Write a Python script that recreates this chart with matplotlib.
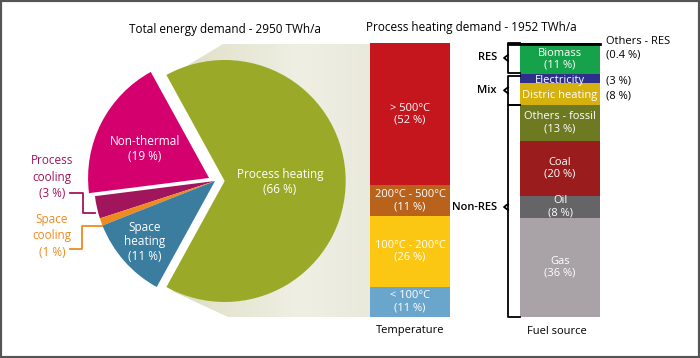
import matplotlib.pyplot as plt
import numpy as np
from matplotlib.patches import Polygon, Rectangle
from matplotlib.colors import LinearSegmentedColormap

plt.rcParams['font.family'] = ['Open Sans', 'DejaVu Sans']

# Total energy demand split (%)
pie_names = ['Process heating', 'Non-thermal', 'Process cooling', 'Space cooling', 'Space heating']
pie_values = [66, 19, 3, 1, 11]
pie_colors = ['#9aaa28', '#d4006e', '#a0155c', '#ef8a22', '#3a7d9e']
pie_explode = [0.08, 0.055, 0, 0, 0]  # fraction of radius

# Process heating by temperature (%)
temp_names = ['> 500°C', '200°C - 500°C', '100°C - 200°C', '< 100°C']
temp_values = [52, 11, 26, 11]
temp_colors = ['#c4161c', '#b8621b', '#fcc712', '#6aa6cb']

# Process heating by fuel (%)
fuel_names = ['Others - RES', 'Biomass', 'Electricity', 'Distric heating',
              'Others - fossil', 'Coal', 'Oil', 'Gas']
fuel_values = [0.4, 11, 3, 8, 13, 20, 8, 36]
fuel_colors = ['#111111', '#16a24a', '#2e2f8a', '#d6b00c', '#6e7a22', '#9a1c1c', '#656567', '#a9a2a7']
fuel_inside_value = [False, True, False, False, True, True, True, True]

groups = ['RES', 'Mix', 'Non-RES']

fig = plt.figure(figsize=(7.0, 3.58), dpi=100)
ax = fig.add_axes([0, 0, 1, 1])

# pie (pixel-like coordinates, y pointing down)
pie_r = 121
wedges, _ = ax.pie(pie_values, colors=pie_colors, explode=[e * pie_r for e in pie_explode],
                   startangle=118.8, counterclock=False, center=(215, 181), radius=pie_r,
                   wedgeprops=dict(linewidth=0))
for w in wedges:
    w.set_zorder(3)

ax.set_xlim(0, 700)
ax.set_ylim(358, 0)
ax.axis('off')

# beige "zoom" band from pie to the temperature bar
band = Polygon([(223, 44), (370, 44), (370, 317), (228, 317), (172, 291), (225, 181), (170, 76)],
               facecolor='none', edgecolor='none')
ax.add_patch(band)
cmap = LinearSegmentedColormap.from_list('band', ['#dcdcc0', '#e6e6d3', '#efefe4', '#e9e9dc'])
grad = np.linspace(0, 1, 256).reshape(1, -1)
im = ax.imshow(grad, cmap=cmap, extent=[160, 370, 318, 43], aspect='auto', zorder=1)
im.set_clip_path(band)
ax.set_xlim(0, 700)
ax.set_ylim(358, 0)

bar_top, bar_h = 43, 274

# temperature bar
temp_scale = bar_h / sum(temp_values)
bottom = bar_top
for name, v, c in zip(temp_names, temp_values, temp_colors):
    ax.bar(410, v * temp_scale, bottom=bottom, width=80, color=c, linewidth=0, zorder=3)
    ax.text(410, bottom + v * temp_scale / 2, '%s\n(%d %%)' % (name, v), ha='center', va='center',
            color='white', fontsize=8, linespacing=1.15, zorder=4)
    bottom += v * temp_scale

# fuel bar
fuel_scale = bar_h / sum(fuel_values)
bottom = bar_top
for name, v, c, inside in zip(fuel_names, fuel_values, fuel_colors, fuel_inside_value):
    ax.bar(560, v * fuel_scale, bottom=bottom, width=80, color=c, linewidth=0, zorder=3)
    mid = bottom + v * fuel_scale / 2
    if inside:
        ax.text(560, mid, '%s\n(%g %%)' % (name, v), ha='center', va='center',
                color='white', fontsize=8, linespacing=1.15, zorder=4)
    elif v >= 1:
        ax.text(560, mid + 1.5, name, ha='center', va='center', color='white', fontsize=8, zorder=4)
        ax.text(606, mid + 2, '(%g %%)' % v, ha='left', va='center', fontsize=8)
    bottom += v * fuel_scale
ax.text(606, 42, fuel_names[0], ha='left', va='center', fontsize=8)
ax.text(606, 55, '(%g %%)' % fuel_values[0], ha='left', va='center', fontsize=8)

# brackets RES / Mix / Non-RES
cum = bar_top + np.cumsum([0] + fuel_values) * fuel_scale
spans = [(cum[0], cum[2] - 1.5), (cum[2] + 1.5, cum[4]), (cum[4], cum[-1])]
for g, (y0, y1) in zip(groups, spans):
    ym = (y0 + y1) / 2 if g != 'Non-RES' else 207
    ax.plot([520, 508, 508, 520], [y0, y0, y1, y1], color='black', lw=1.3, zorder=4)
    ax.plot([508, 504, 508], [ym - 3, ym, ym + 3], color='black', lw=1.3, zorder=4)
    ax.text(497, ym, g, ha='right', va='center', fontsize=8, fontweight='semibold')
ax.plot([508, 600], [cum[0] + 0.5, cum[0] + 0.5], color='black', lw=2, zorder=4)

# titles
ax.text(225, 29, 'Total energy demand - 2950 TWh/a', ha='center', va='center', fontsize=8.5)
ax.text(471, 28, 'Process heating demand - 1952 TWh/a', ha='center', va='center', fontsize=8.5)
ax.text(410, 331, 'Temperature', ha='center', va='center', fontsize=8)
ax.text(557, 331, 'Fuel source', ha='center', va='center', fontsize=8)

# pie labels
ax.text(280, 182, 'Process heating\n(66 %)', ha='center', va='center', color='white',
        fontsize=8.5, linespacing=1.15, zorder=5)
ax.text(145, 149, 'Non-thermal\n(19 %)', ha='center', va='center', color='white',
        fontsize=8.5, linespacing=1.15, zorder=5)
ax.text(145, 242, 'Space\nheating\n(11 %)', ha='center', va='center', color='white',
        fontsize=8.5, linespacing=1.1, zorder=5)
ax.text(52, 177, 'Process\ncooling\n(3 %)', ha='center', va='center', color=pie_colors[2],
        fontsize=8.5, linespacing=1.35)
ax.text(52, 236, 'Space\ncooling\n(1 %)', ha='center', va='center', color=pie_colors[3],
        fontsize=8.5, linespacing=1.35)
ax.plot([70, 83, 83, 95], [193, 193, 213, 213], color=pie_colors[2], lw=1.3, zorder=2)
ax.plot([70, 82, 82, 102], [249, 249, 226, 226], color=pie_colors[3], lw=1.3, zorder=2)

fig.patches.append(Rectangle((0, 0), 1, 1, transform=fig.transFigure, fill=False,
                             edgecolor='#555555', lw=3))

fig.savefig('out.png', dpi=100)
